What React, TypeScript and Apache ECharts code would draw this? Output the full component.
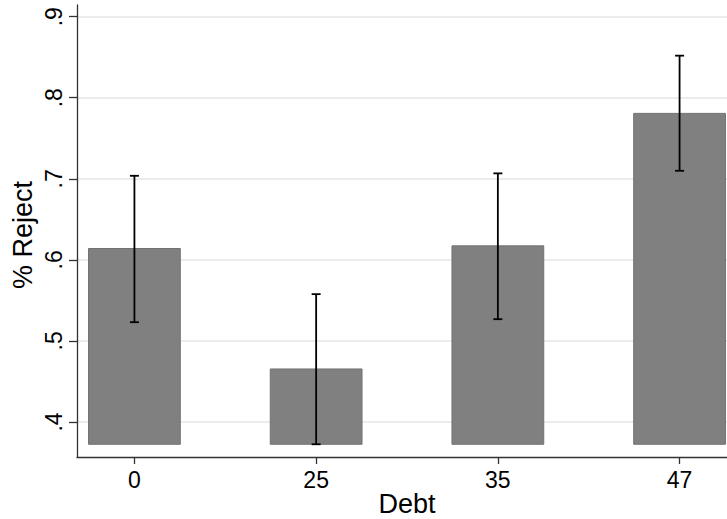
import { useEffect, useRef } from 'react';
import * as echarts from 'echarts';

// Share rejecting the offer by debt level, with 95% confidence intervals
const debtLevels = ['0', '25', '35', '47'];
const rejectShare = [0.614, 0.4654, 0.6173, 0.7807];
const ciLow = [0.5231, 0.3725, 0.5268, 0.7099];
const ciHigh = [0.7037, 0.5577, 0.7067, 0.8519];
const yTicks = [0.4, 0.5, 0.6, 0.7, 0.8, 0.9];

const Y_MIN = 0.3568;
const Y_MAX = 0.9144;
const X_PAD = 0.316;
const BAR_WIDTH = 0.505; // in category units
const CAP_HALF = 4.5; // px
const FONT = 'Liberation Sans, Arial, Helvetica, sans-serif';

export default function App() {
  const ref = useRef<HTMLDivElement>(null);

  useEffect(() => {
    if (!ref.current) return;
    const chart = echarts.init(ref.current, undefined, { renderer: 'svg' });
    const barBase = Math.min(...ciLow);
    const positions = debtLevels.map((_, i) => i);

    chart.setOption({
      animation: false,
      backgroundColor: '#ffffff',
      grid: {
        left: 77,
        top: 5,
        width: 660,
        bottom: 62,
        containLabel: false,
        outerBoundsMode: 'none',
      },
      xAxis: {
        type: 'value',
        min: -X_PAD,
        max: debtLevels.length - 1 + X_PAD,
        name: 'Debt',
        nameLocation: 'middle',
        nameGap: 33,
        nameMoveOverlap: false,
        nameTextStyle: { fontFamily: FONT, fontSize: 27, color: '#000' },
        axisLine: { show: true, onZero: false, lineStyle: { color: '#333', width: 1.3 } },
        axisTick: { show: true, length: 7, customValues: positions, lineStyle: { color: '#333', width: 1.3 } },
        axisLabel: {
          customValues: positions,
          margin: 11,
          fontFamily: FONT,
          fontSize: 23,
          color: '#000',
          formatter: (v: number) => debtLevels[Math.round(v)] ?? '',
        },
        splitLine: { show: false },
      },
      yAxis: {
        type: 'value',
        min: Y_MIN,
        max: Y_MAX,
        name: '% Reject',
        nameLocation: 'middle',
        nameRotate: 90,
        nameGap: 41,
        nameMoveOverlap: false,
        nameTextStyle: { fontFamily: FONT, fontSize: 27, color: '#000', padding: [0, 8, 0, 0] },
        axisLine: { show: true, onZero: false, lineStyle: { color: '#333', width: 1.3 } },
        axisTick: { show: true, length: 8, customValues: yTicks, lineStyle: { color: '#333', width: 1.3 } },
        axisLabel: {
          customValues: yTicks,
          rotate: 90,
          margin: 12,
          fontFamily: FONT,
          fontSize: 23,
          color: '#000',
          formatter: (v: number) => v.toFixed(1).replace(/^0/, ''),
        },
        splitLine: { show: true, lineStyle: { color: '#e6e6e6', width: 1.5 } },
      },
      series: [
        {
          type: 'custom',
          name: 'Share rejecting',
          data: positions.map((i) => [i, rejectShare[i]]),
          renderItem: (_params: any, api: any) => {
            const x = api.value(0);
            const v = api.value(1);
            const half = BAR_WIDTH / 2;
            const p0 = api.coord([x - half, v]);
            const p1 = api.coord([x + half, barBase]);
            return {
              type: 'rect',
              shape: { x: p0[0], y: p0[1], width: p1[0] - p0[0], height: p1[1] - p0[1] },
              style: { fill: '#808080', stroke: '#727272', lineWidth: 1 },
            };
          },
        },
        {
          type: 'custom',
          name: '95% CI',
          z: 3,
          data: positions.map((i) => [i, ciLow[i], ciHigh[i]]),
          renderItem: (_params: any, api: any) => {
            const x = api.value(0);
            const lo = api.coord([x, api.value(1)]);
            const hi = api.coord([x, api.value(2)]);
            const style = { stroke: '#000', lineWidth: 1.8 };
            return {
              type: 'group',
              children: [
                { type: 'line', shape: { x1: lo[0], y1: lo[1], x2: hi[0], y2: hi[1] }, style },
                { type: 'line', shape: { x1: hi[0] - CAP_HALF, y1: hi[1], x2: hi[0] + CAP_HALF, y2: hi[1] }, style },
                { type: 'line', shape: { x1: lo[0] - CAP_HALF, y1: lo[1], x2: lo[0] + CAP_HALF, y2: lo[1] }, style },
              ],
            };
          },
        },
      ],
    });

    return () => chart.dispose();
  }, []);

  return (
    <div
      ref={ref}
      style={{ position: 'fixed', left: 0, top: 0, width: 727, height: 519, background: '#fff' }}
    />
  );
}
